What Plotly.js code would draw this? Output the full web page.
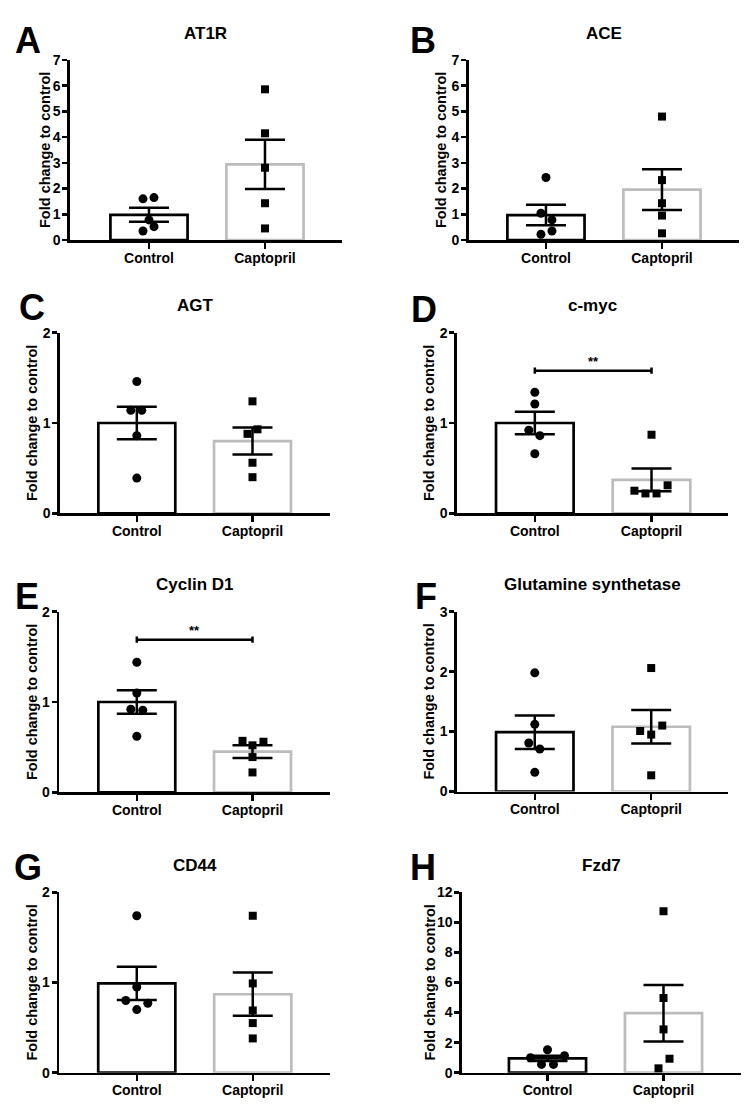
<!DOCTYPE html>
<html>
<head>
<meta charset="utf-8">
<script src="https://cdn.plot.ly/plotly-3.0.1.min.js"></script>
<style>
  html, body { margin: 0; padding: 0; background: #fff; }
  #chart { width: 753px; height: 1106px; }
</style>
</head>
<body>
<div id="chart"></div>
<script>
// ---------- Data ----------
const panelLetters = ['A', 'B', 'C', 'D', 'E', 'F', 'G', 'H'];
const genes = ['AT1R', 'ACE', 'AGT', 'c-myc', 'Cyclin D1', 'Glutamine synthetase', 'CD44', 'Fzd7'];
const groups = ['Control', 'Captopril'];
const yAxisTitle = 'Fold change to control';

const controlMean   = [0.98, 0.97, 1.00, 1.00, 1.00, 0.99, 0.99, 0.95];
const controlSEM    = [0.27, 0.40, 0.18, 0.125, 0.13, 0.28, 0.185, 0.18];
const captoprilMean = [2.94, 1.96, 0.80, 0.37, 0.45, 1.08, 0.87, 3.96];
const captoprilSEM  = [0.96, 0.79, 0.15, 0.125, 0.07, 0.28, 0.24, 1.88];

const controlPoints = [
  [1.60, 1.65, 0.78, 0.35, 0.52],
  [2.43, 1.04, 0.78, 0.35, 0.22],
  [1.46, 1.14, 1.14, 0.86, 0.39],
  [1.34, 1.21, 0.92, 0.86, 0.66],
  [1.44, 1.10, 0.92, 0.91, 0.62],
  [1.98, 1.12, 0.81, 0.71, 0.32],
  [1.74, 0.95, 0.80, 0.77, 0.70],
  [1.53, 1.00, 1.13, 0.55, 0.55]
];
const captoprilPoints = [
  [5.86, 4.15, 2.81, 1.43, 0.45],
  [4.80, 2.33, 1.43, 0.95, 0.26],
  [1.24, 0.88, 0.93, 0.56, 0.40],
  [0.87, 0.25, 0.22, 0.22, 0.31],
  [0.57, 0.52, 0.56, 0.39, 0.22],
  [2.06, 1.01, 1.10, 0.95, 0.27],
  [1.74, 0.99, 0.69, 0.55, 0.38],
  [10.74, 4.97, 2.88, 0.93, 0.29]
];

const yMax   = [7, 7, 2, 2, 2, 3, 2, 12];
const yDtick = [1, 1, 1, 1, 1, 1, 1, 2];
const sigLabel  = ['', '', '', '**', '**', '', '', ''];
const sigHeight = [null, null, null, 1.58, 1.69, null, null, null];

// ---------- Layout helpers (pixel geometry of the figure) ----------
const W = 753, H = 1106;
// plot boxes [left, right, top, bottom] in px
const boxes = [
  [70, 342, 60, 240],
  [468.7, 739, 60, 240],
  [60, 330, 332.7, 513.3],
  [457, 727.7, 332.7, 513.3],
  [59.3, 330, 611.7, 792.3],
  [457, 727.7, 611.7, 791.5],
  [59.3, 330, 892.3, 1072.7],
  [462, 741, 892.3, 1072.7]
];
const xRanges = [
  [-0.681, 1.664], [-0.666, 1.664], [-0.664, 1.670], [-0.667, 1.653],
  [-0.670, 1.670], [-0.668, 1.657], [-0.668, 1.666], [-0.737, 1.668]
];
// horizontal scatter of the dots, in px
const ctrlJitterPx = [
  [-6, 5, 0, -6, 5], [0, -5, 6, 6, -5], [0, -6, 5, 0, 0], [0, 0, -6, 5, 0],
  [0, 0, -6, 6, 0], [0, 0, -6, 5, 0], [0, 0, -11, 11, 0], [0, -17, 17, -6, 6]
];
const captJitterPx = [
  [0, 0, 0, 0, 0], [0, 0, 0, 0, 0], [0, -5, 5, 0, 0], [0, -17, -6, 5, 16],
  [-10, 0, 11, 0, 0], [0, -11, 11, 0, 0], [0, 0, 0, 0, 0], [0, 0, 0, 6, -5]
];
const letterPos = [[28, 41], [423.5, 41], [32, 308], [424, 310], [27, 596], [426, 596], [28, 867], [423.5, 867]];
const yTitleX = [45, 441, 32, 429, 32, 429, 32, 430];
const UNIT_PX = 116;

const FONT = '"Liberation Sans", Arial, Helvetica, sans-serif';
const BLACK = '#000000';
const GREY = '#bcbcbc';

const traces = [];
const layout = {
  width: W, height: H,
  margin: {l: 0, r: 0, t: 0, b: 0},
  paper_bgcolor: '#ffffff',
  plot_bgcolor: 'rgba(0,0,0,0)',
  showlegend: false,
  font: {family: FONT, color: BLACK},
  annotations: [],
  shapes: []
};

panelLetters.forEach((letter, i) => {
  const n = i === 0 ? '' : String(i + 1);
  const xa = 'x' + n, ya = 'y' + n;
  const [l, r, t, b] = boxes[i];
  const xd = [l / W, r / W];
  const yd = [1 - b / H, 1 - t / H];

  layout['xaxis' + n] = {
    domain: xd, range: xRanges[i], anchor: ya,
    showline: true, linewidth: 2.7, linecolor: BLACK,
    ticks: 'outside', ticklen: 6, tickwidth: 2.5, tickcolor: BLACK,
    ticklabelstandoff: -3,
    tickvals: [0, 1], ticktext: groups,
    tickfont: {family: FONT, size: 14, weight: 'bold', color: BLACK},
    showgrid: false, zeroline: false, fixedrange: true
  };
  layout['yaxis' + n] = {
    domain: yd, range: [0, yMax[i]], anchor: xa,
    showline: true, linewidth: 2.7, linecolor: BLACK,
    ticks: 'outside', ticklen: 5, tickwidth: 2.5, tickcolor: BLACK,
    ticklabelstandoff: -1,
    tick0: 0, dtick: yDtick[i],
    tickfont: {family: FONT, size: 14, weight: 'bold', color: BLACK},
    showgrid: false, zeroline: false, fixedrange: true
  };

  // bars with SEM error bars
  traces.push({
    type: 'bar', x: [0], y: [controlMean[i]], width: 0.665,
    xaxis: xa, yaxis: ya,
    marker: {color: '#ffffff', line: {color: BLACK, width: 2.7}},
    error_y: {type: 'data', array: [controlSEM[i]], visible: true, color: BLACK, thickness: 2.5, width: 20},
    hoverinfo: 'y'
  });
  traces.push({
    type: 'bar', x: [1], y: [captoprilMean[i]], width: 0.665,
    xaxis: xa, yaxis: ya,
    marker: {color: '#ffffff', line: {color: GREY, width: 2.7}},
    error_y: {type: 'data', array: [captoprilSEM[i]], visible: true, color: BLACK, thickness: 2.5, width: 20},
    hoverinfo: 'y'
  });
  // individual points
  traces.push({
    type: 'scatter', mode: 'markers',
    x: ctrlJitterPx[i].map(p => 0 + p / UNIT_PX), y: controlPoints[i],
    xaxis: xa, yaxis: ya, cliponaxis: false,
    marker: {symbol: 'circle', size: 9, color: BLACK, line: {width: 0}}
  });
  traces.push({
    type: 'scatter', mode: 'markers',
    x: captJitterPx[i].map(p => 1 + p / UNIT_PX), y: captoprilPoints[i],
    xaxis: xa, yaxis: ya, cliponaxis: false,
    marker: {symbol: 'square', size: 8, color: BLACK, line: {width: 0}}
  });

  // significance bracket
  if (sigLabel[i]) {
    const h = sigHeight[i];
    const cap = 0.035 * yMax[i] / 2;
    const lineStyle = {color: BLACK, width: 2.5};
    layout.shapes.push({type: 'line', xref: xa, yref: ya, x0: 0, x1: 1, y0: h, y1: h, line: lineStyle});
    layout.shapes.push({type: 'line', xref: xa, yref: ya, x0: 0, x1: 0, y0: h - cap, y1: h + cap, line: lineStyle});
    layout.shapes.push({type: 'line', xref: xa, yref: ya, x0: 1, x1: 1, y0: h - cap, y1: h + cap, line: lineStyle});
    layout.annotations.push({
      xref: xa, yref: ya, x: 0.5, y: h, text: sigLabel[i], showarrow: false,
      xanchor: 'center', yanchor: 'bottom', yshift: 0,
      font: {family: FONT, size: 13, weight: 'bold', color: BLACK}
    });
  }

  // y-axis title
  layout.annotations.push({
    xref: 'paper', yref: 'paper',
    x: yTitleX[i] / W, y: (yd[0] + yd[1]) / 2,
    xanchor: 'center', yanchor: 'middle', showarrow: false, textangle: -90,
    text: yAxisTitle, font: {family: FONT, size: 14.5, weight: 'bold', color: BLACK}
  });
  // panel title
  layout.annotations.push({
    xref: 'paper', yref: 'paper',
    x: (xd[0] + xd[1]) / 2, y: 1 - (t - 27) / H,
    xanchor: 'center', yanchor: 'middle', showarrow: false,
    text: genes[i], font: {family: FONT, size: 17, weight: 'bold', color: BLACK}
  });
  // panel letter
  layout.annotations.push({
    xref: 'paper', yref: 'paper',
    x: letterPos[i][0] / W, y: 1 - letterPos[i][1] / H,
    xanchor: 'center', yanchor: 'middle', showarrow: false,
    text: letter, font: {family: FONT, size: 36, weight: 'bold', color: BLACK}
  });
});

Plotly.newPlot('chart', traces, layout, {displayModeBar: false, staticPlot: true});
</script>
</body>
</html>
